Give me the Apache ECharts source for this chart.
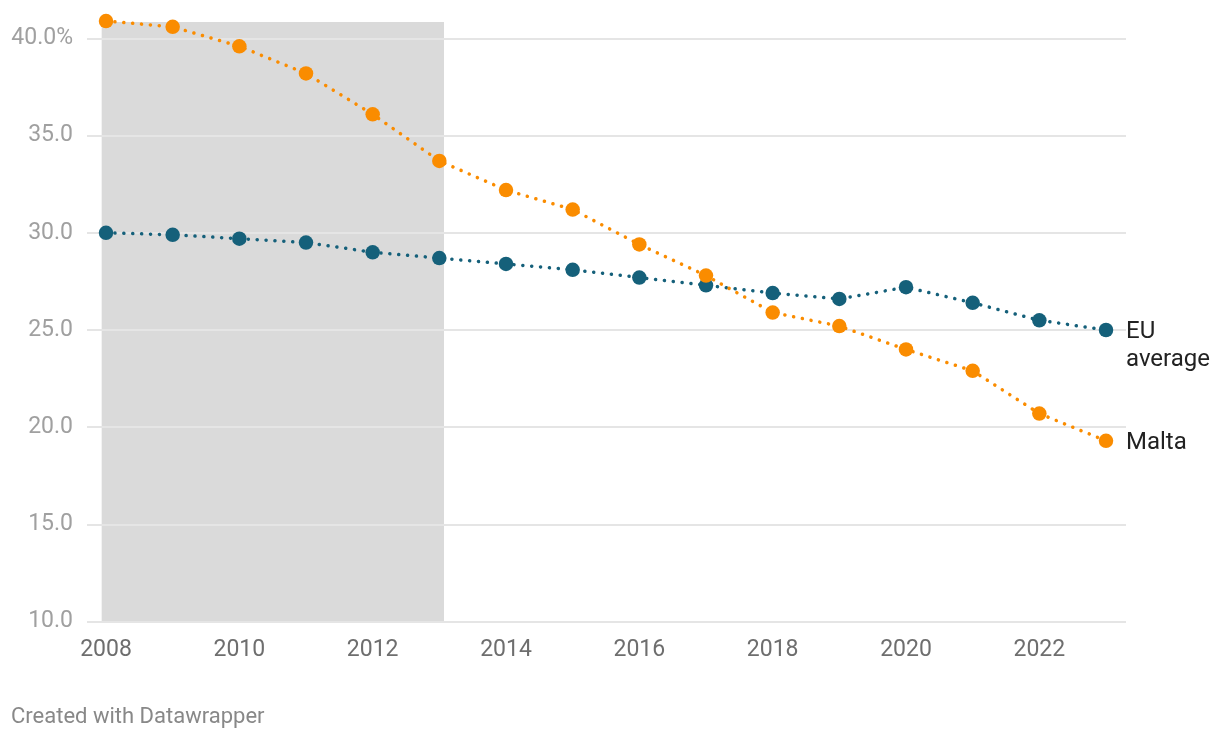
<!DOCTYPE html>
<html>
<head>
<meta charset="utf-8">
<script src="https://cdn.jsdelivr.net/npm/echarts@6/dist/echarts.min.js"></script>
<style>
html,body{margin:0;padding:0;background:#fff;}
#chart{width:1220px;height:738px;}
</style>
</head>
<body>
<div id="chart"></div>
<script>
const years = [2008,2009,2010,2011,2012,2013,2014,2015,2016,2017,2018,2019,2020,2021,2022,2023];
const malta = [40.9,40.6,39.6,38.2,36.1,33.7,32.2,31.2,29.4,27.8,25.9,25.2,24.0,22.9,20.7,19.3];
const euAverage = [30.0,29.9,29.7,29.5,29.0,28.7,28.4,28.1,27.7,27.3,26.9,26.6,27.2,26.4,25.5,25.0];
const xTickLabels = [2008,2010,2012,2014,2016,2018,2020,2022];
const yTicks = [10,15,20,25,30,35,40];
const shadedPeriod = [2008, 2013];

const chart = echarts.init(document.getElementById('chart'));
const font = 'Roboto, "Noto Sans", sans-serif';
const dots = {width: 3.5, type: [0.1, 8.8], cap: 'round'};

chart.setOption({
  animation: false,
  backgroundColor: '#fff',
  textStyle: {fontFamily: font},
  grid: {left: 87, right: 94, top: 38.5, bottom: 116.5},
  xAxis: {
    type: 'value', min: 2007.715, max: 2023.3,
    axisLine: {show: false}, axisTick: {show: false}, splitLine: {show: false},
    axisLabel: {customValues: xTickLabels, color: '#6e6e6e', fontSize: 23, margin: 17, fontFamily: font,
      formatter: v => String(v)}
  },
  yAxis: {
    type: 'value', min: yTicks[0], max: yTicks[yTicks.length-1], interval: 5, z: 2,
    axisLine: {show: false}, axisTick: {show: false},
    splitLine: {lineStyle: {color: '#e5e5e5', width: 2}},
    axisLabel: {color: '#a0a0a0', fontSize: 23, margin: 14, fontFamily: font,
      formatter: v => v === 40 ? v.toFixed(1) + '%' : v.toFixed(1)}
  },
  series: [
    {
      type: 'custom', z: 1, silent: true, clip: false,
      data: [[shadedPeriod[0] - 0.065, shadedPeriod[1] + 0.07, yTicks[0], Math.max(...malta) - 0.05]],
      encode: {x: [0, 1], y: [2, 3]},
      renderItem: (params, api) => {
        const p1 = api.coord([api.value(0), api.value(3)]);
        const p2 = api.coord([api.value(1), api.value(2)]);
        return {type: 'rect', shape: {x: p1[0], y: p1[1], width: p2[0] - p1[0], height: p2[1] - p1[1]},
          style: {fill: '#dadada'}};
      }
    },
    {
      name: 'EU average', type: 'line', z: 3, clip: false,
      data: years.map((y,i) => [y, euAverage[i]]),
      symbol: 'circle', symbolSize: 14.5, showSymbol: true,
      itemStyle: {color: '#15607a'},
      lineStyle: Object.assign({color: '#15607a'}, dots),
      endLabel: {show: true, formatter: 'EU\naverage', color: '#222', fontSize: 24, lineHeight: 28,
        distance: 20, offset: [0, 16], fontFamily: font}
    },
    {
      name: 'Malta', type: 'line', z: 3, clip: false,
      data: years.map((y,i) => [y, malta[i]]),
      symbol: 'circle', symbolSize: 14.5, showSymbol: true,
      itemStyle: {color: '#fa8c00'},
      lineStyle: Object.assign({color: '#fa8c00'}, dots),
      endLabel: {show: true, formatter: 'Malta', color: '#222', fontSize: 24, distance: 20, offset: [0, 2], fontFamily: font}
    }
  ],
  graphic: [{
    type: 'text', left: 11, top: 706,
    style: {text: 'Created with Datawrapper', fill: '#888', fontSize: 22, fontFamily: font}
  }]
});
</script>
</body>
</html>
